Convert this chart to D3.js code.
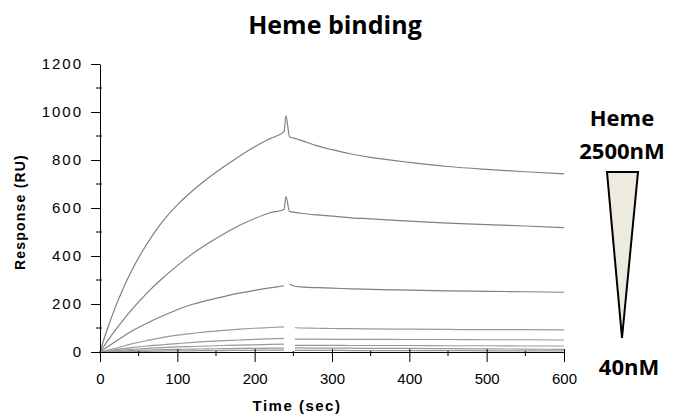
<!DOCTYPE html>
<html>
<head>
<meta charset="utf-8">
<script src="https://cdn.jsdelivr.net/npm/d3@7"></script>
<style>
  body { margin: 0; background: #fff; }
  svg { display: block; }
</style>
</head>
<body>
<div id="chart"></div>
<script>
// sample times (sec); 240.5 is the injection-end spike, null = no data
const time = [0, 5, 10, 20, 30, 40, 60, 80, 100, 120, 140, 160, 180, 200, 220, 238,
              240.5, 245, 252, 260, 280, 300, 325, 350, 400, 450, 500, 550, 600];

const r2500 = [0, 52, 100, 188, 265, 333, 447, 540, 613, 673, 725, 772, 815, 855, 889, 918,
               985, 897, 890, 882, 860, 843, 825, 811, 790, 773, 761, 751, 742];
const r1250 = [0, 24, 47, 92, 133, 172, 243, 305, 360, 410, 453, 492, 527, 556, 580, 594,
               648, 586, 582, 578, 571, 566, 559, 555, 545, 537, 531, 525, 518];
const r625  = [0, 11, 22, 44, 65, 85, 119, 149, 176, 199, 216, 231, 245, 257, 267, 276,
               null, 283, 274, 271, 268, 266, 263, 261, 258, 255, 253, 251, 249];
const r313  = [0, 4, 8, 15, 24, 33, 47, 60, 70, 78, 85, 90, 95, 99, 102, 105,
               null, null, 101, 100, 99, 98, 97, 96, 95, 94, 93, 93, 92];
const r156  = [0, 2, 4, 9, 14, 18, 25, 30, 35, 40, 44, 47, 50, 53, 55, 57,
               null, null, 54, 54, 54, 53, 53, 53, 52, 52, 51, 51, 50];
const r78   = [0, 1, 2, 5, 8, 11, 15, 18, 21, 23, 25, 27, 29, 30, 32, 33,
               null, null, 28, 28, 28, 28, 27, 27, 27, 26, 26, 25, 25];
const r39   = [0, 1, 2, 3, 4, 6, 8, 10, 11, 12, 13, 14, 15, 15, 16, 16,
               null, null, 17, 17, 16, 16, 16, 15, 15, 14, 13, 12, 11];
const r0    = [0, 0, 1, 1, 2, 2, 3, 4, 5, 5, 6, 6, 7, 7, 8, 8,
               null, null, 7, 7, 7, 7, 6, 6, 6, 6, 5, 5, 5];

const xTicks = [0, 100, 200, 300, 400, 500, 600];
const xMinor = [50, 150, 250, 350, 450, 550];
const yTicks = [0, 200, 400, 600, 800, 1000, 1200];
const yMinor = [100, 300, 500, 700, 900, 1100];

const title = "Heme binding";
const legendTop = ["Heme", "2500nM"];
const legendBottom = "40nM";

const width = 673, height = 420;

const svg = d3.select("#chart").append("svg")
    .attr("width", width)
    .attr("height", height);

svg.append("rect").attr("width", width).attr("height", height).attr("fill", "#fff");

let x = d3.scaleLinear().domain([0, 600]).range([100, 564]);
let y = d3.scaleLinear().domain([0, 1200]).range([352, 64]);

// curves
let series = [r2500, r1250, r625, r313, r156, r78, r39, r0];

let line = d3.line()
    .defined(d => d[1] !== null)
    .x(d => x(d[0]))
    .y(d => y(d[1]))
    .curve(d3.curveMonotoneX);

svg.append("g").selectAll("path")
    .data(series)
    .enter()
    .append("path")
    .attr("d", s => line(time.map((t, i) => [t, s[i]])))
    .attr("fill", "none")
    .attr("stroke", (d, i) => i < 3 ? "#808080" : "#999")
    .attr("stroke-width", 1.2);

// x axis
let xAxis = svg.append("g")
    .attr("transform", "translate(0," + y(0) + ")")
    .call(d3.axisBottom(x).tickValues(xTicks).tickFormat(d3.format("d"))
        .tickSize(10).tickSizeOuter(0).tickPadding(11));
xAxis.selectAll(".tick line").attr("y1", -3);

xAxis.selectAll(".minor")
    .data(xMinor)
    .enter()
    .append("line")
    .attr("class", "minor")
    .attr("x1", d => x(d)).attr("x2", d => x(d))
    .attr("y1", -1).attr("y2", 4)
    .attr("stroke", "#000");

// y axis
let yAxis = svg.append("g")
    .attr("transform", "translate(" + x(0) + ",0)")
    .call(d3.axisLeft(y).tickValues(yTicks).tickFormat(d3.format("d"))
        .tickSize(9).tickSizeOuter(0).tickPadding(8));

yAxis.selectAll(".minor")
    .data(yMinor)
    .enter()
    .append("line")
    .attr("class", "minor")
    .attr("y1", d => y(d)).attr("y2", d => y(d))
    .attr("x1", -4).attr("x2", 2)
    .attr("stroke", "#000");

svg.selectAll(".domain").attr("stroke", "#000");
svg.selectAll(".tick line").attr("stroke", "#000");
svg.selectAll(".tick text")
    .attr("fill", "#000")
    .style("font-family", "'Liberation Sans', Arial, sans-serif")
    .style("font-size", "15px");
yAxis.selectAll(".tick text").style("letter-spacing", "2px");

// axis titles
svg.append("text")
    .attr("x", 297)
    .attr("y", 411)
    .attr("text-anchor", "middle")
    .style("font-family", "'Liberation Sans', Arial, sans-serif")
    .style("font-weight", "bold")
    .style("font-size", "15px")
    .style("letter-spacing", "1.5px")
    .text("Time (sec)");

svg.append("text")
    .attr("transform", "translate(25,212) rotate(-90)")
    .attr("text-anchor", "middle")
    .style("font-family", "'Liberation Sans', Arial, sans-serif")
    .style("font-weight", "bold")
    .style("font-size", "14px")
    .style("letter-spacing", "1.2px")
    .text("Response (RU)");

// title
svg.append("text")
    .attr("x", 335)
    .attr("y", 34)
    .attr("text-anchor", "middle")
    .style("font-family", "'Open Sans', sans-serif")
    .style("font-weight", "bold")
    .style("font-size", "25px")
    .text(title);

// concentration legend
let legend = svg.append("g")
    .style("font-family", "'Open Sans', sans-serif")
    .style("font-weight", "bold")
    .style("font-size", "22px");

legend.selectAll("text.top")
    .data(legendTop)
    .enter()
    .append("text")
    .attr("class", "top")
    .attr("x", 622)
    .attr("y", (d, i) => 126 + i * 33)
    .attr("text-anchor", "middle")
    .text(d => d);

legend.append("text")
    .attr("x", 629)
    .attr("y", 375)
    .attr("text-anchor", "middle")
    .text(legendBottom);

legend.append("path")
    .attr("d", d3.line()([[607, 172], [638, 172], [622, 338]]) + "Z")
    .attr("fill", "#edebe0")
    .attr("stroke", "#000")
    .attr("stroke-width", 2)
    .attr("stroke-linejoin", "miter");
</script>
</body>
</html>
